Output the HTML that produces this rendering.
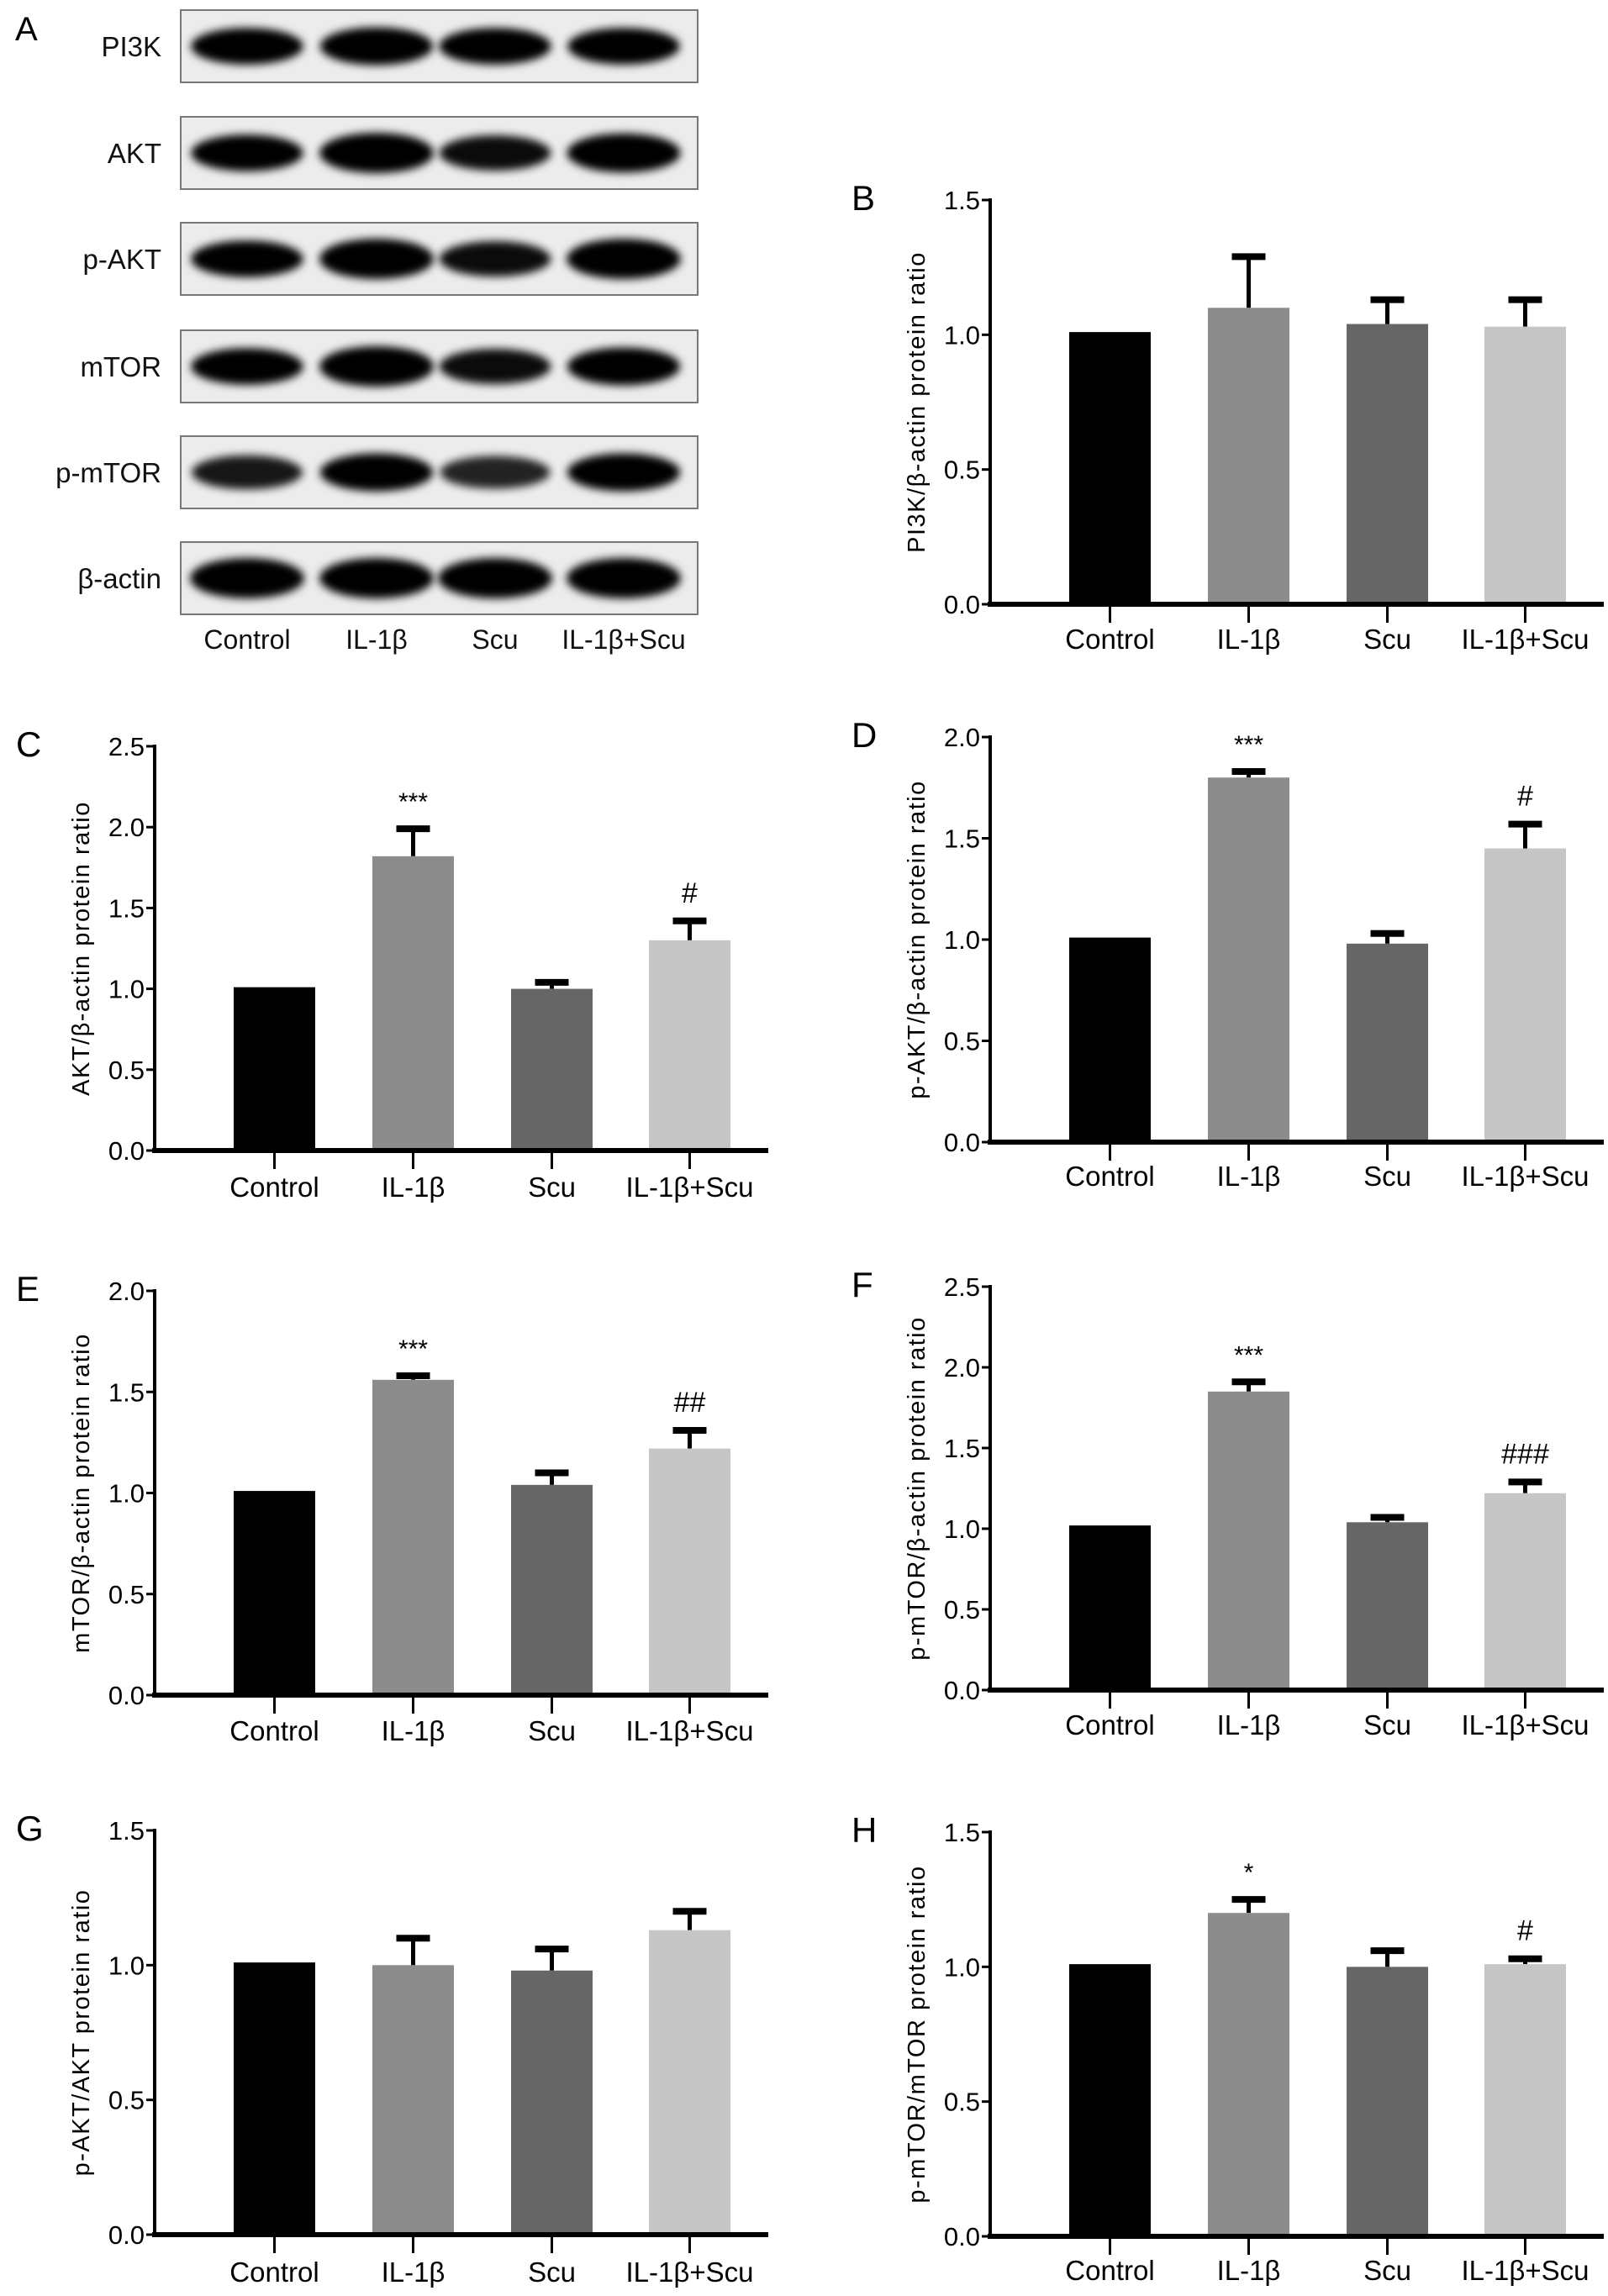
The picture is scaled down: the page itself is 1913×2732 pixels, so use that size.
<!DOCTYPE html>
<html><head><meta charset="utf-8"><style>
html,body{margin:0;padding:0;background:#fff;}
svg{display:block;font-family:"Liberation Sans",sans-serif;}
</style></head><body>
<svg id="fig" width="1913" height="2732" viewBox="0 0 1913 2732">
<defs>
<filter id="blur" x="-20%" y="-50%" width="140%" height="200%"><feGaussianBlur stdDeviation="5"/></filter>
</defs>
</svg>
<script>
const NS='http://www.w3.org/2000/svg';
const svg=document.getElementById('fig');
function el(tag,attrs,parent){const e=document.createElementNS(NS,tag);for(const k in attrs)e.setAttribute(k,attrs[k]);(parent||svg).appendChild(e);return e;}

const categories=['Control','IL-1β','Scu','IL-1β+Scu'];
const colors=['#000000','#8c8c8c','#666666','#c6c6c6'];

const bValues=[1.01,1.10,1.04,1.03];  const bErr=[0,0.19,0.09,0.10];  const bSig=['','','',''];
const cValues=[1.01,1.82,1.00,1.30];  const cErr=[0,0.17,0.04,0.12];  const cSig=['','***','','#'];
const dValues=[1.01,1.80,0.98,1.45];  const dErr=[0,0.03,0.05,0.12];  const dSig=['','***','','#'];
const eValues=[1.01,1.56,1.04,1.22];  const eErr=[0,0.02,0.06,0.09];  const eSig=['','***','','##'];
const fValues=[1.02,1.85,1.04,1.22];  const fErr=[0,0.06,0.03,0.07];  const fSig=['','***','','###'];
const gValues=[1.01,1.00,0.98,1.13];  const gErr=[0,0.10,0.08,0.07];  const gSig=['','','',''];
const hValues=[1.01,1.20,1.00,1.01];  const hErr=[0,0.05,0.06,0.02];  const hSig=['','*','','#'];

const ticks15=['0.0','0.5','1.0','1.5'];
const ticks20=['0.0','0.5','1.0','1.5','2.0'];
const ticks25=['0.0','0.5','1.0','1.5','2.0','2.5'];

const blotLabels=['PI3K','AKT','p-AKT','mTOR','p-mTOR','β-actin'];
const blotIntensity=[[0.85,0.9,0.85,0.85],[0.85,1.0,0.8,0.95],[0.85,1.0,0.8,1.0],[0.85,1.0,0.8,0.9],[0.75,0.9,0.7,0.9],[1.0,1.0,1.0,1.0]];

(function(){
  const g=el('g',{});
  
  
  const lbl=el('text',{x:18,y:48,'font-size':40},g);lbl.textContent='A';
  
  
  const tops=[12,139,265,393,519,645];
  const lanes=[294,448,589,742];
  blotLabels.forEach((name,i)=>{
    const y=tops[i],h=86;
    const bg=el('rect',{x:215,y:y,width:615,height:h,fill:'#ececec',stroke:'#777','stroke-width':2},g);
    
    
    blotIntensity[i].forEach((v,j)=>{
      const b=el('ellipse',{cx:lanes[j],cy:y+h/2,rx:60+v*8,ry:9+v*15,fill:'#050505',opacity:Math.min(1,v+0.15),filter:'url(#blur)'},g);
      
      
    });
    const t=el('text',{x:192,y:y+h/2+12,'font-size':33,'text-anchor':'end',fill:'#111'},g);
    t.textContent=name;
    
    
  });
  lanes.forEach((x,j)=>{
    const t=el('text',{x:x,y:772,'font-size':32,'text-anchor':'middle',fill:'#111'},g);
    t.textContent=categories[j];
    
    
  });
})();

function chart(o){
  const g=el('g',{});
  
  
  const ax=o.ax, y0=o.y0, yt=o.yt, ymax=o.ymax;
  const yS=v=>y0-(v/ymax)*(y0-yt);
  const barX=[ax+94,ax+259,ax+424,ax+588];
  const bw=97;
  const L=el('text',{x:ax-165,y:yt+12,'font-size':42},g);L.textContent=o.id.toUpperCase();
  
  
  o.values.forEach((v,i)=>{
    const x=barX[i];
    if(o.err[i]>0){
      const yt2=yS(v+o.err[i]);
      const e=el('line',{x1:x+bw/2,x2:x+bw/2,y1:yS(v),y2:yt2,stroke:'#000','stroke-width':5},g);
      
      
      const c=el('line',{x1:x+bw/2-20,x2:x+bw/2+20,y1:yt2,y2:yt2,stroke:'#000','stroke-width':8},g);
      
      
    }
    const r=el('rect',{x:x,y:yS(v),width:bw,height:y0-yS(v),fill:colors[i]},g);
    
    
    if(o.sig[i]){
      const st=el('text',{x:x+bw/2,y:yS(v+o.err[i])-22,'font-size':o.sig[i].startsWith('*')?30:34,'text-anchor':'middle'},g);
      st.textContent=o.sig[i];
      
      
    }
    const tk=el('line',{x1:x+bw/2,x2:x+bw/2,y1:y0,y2:y0+22,stroke:'#000','stroke-width':3},g);
    
    
    const cl=el('text',{x:x+bw/2,y:o.ly,'font-size':33,'text-anchor':'middle'},g);
    cl.textContent=categories[i];
    
    
  });
  const ya=el('line',{x1:ax,x2:ax,y1:yt-2,y2:y0,stroke:'#000','stroke-width':4},g);
  
  
  const xa=el('line',{x1:ax-3,x2:ax+730,y1:y0,y2:y0,stroke:'#000','stroke-width':6},g);
  
  
  o.ticks.forEach(t=>{
    const y=yS(parseFloat(t));
    const tl=el('line',{x1:ax-10,x2:ax,y1:y,y2:y,stroke:'#000','stroke-width':3},g);
    
    
    const tt=el('text',{x:ax-12,y:y+11,'font-size':31,'text-anchor':'end'},g);
    tt.textContent=t;
    
    
  });
  const my=(y0+yt)/2;
  const yt3=el('text',{x:0,y:0,'font-size':29,'text-anchor':'middle','letter-spacing':'1.5',transform:`translate(${ax-78},${my}) rotate(-90)`},g);
  yt3.textContent=o.title;
  
  
}

chart({id:'b',ax:1178,y0:719,yt:238,ymax:1.5,ticks:ticks15,values:bValues,err:bErr,sig:bSig,ly:772,title:'PI3K/β-actin protein ratio'});
chart({id:'c',ax:184,y0:1369,yt:888,ymax:2.5,ticks:ticks25,values:cValues,err:cErr,sig:cSig,ly:1424,title:'AKT/β-actin protein ratio'});
chart({id:'d',ax:1178,y0:1359,yt:877,ymax:2.0,ticks:ticks20,values:dValues,err:dErr,sig:dSig,ly:1411,title:'p-AKT/β-actin protein ratio'});
chart({id:'e',ax:184,y0:2017,yt:1536,ymax:2.0,ticks:ticks20,values:eValues,err:eErr,sig:eSig,ly:2071,title:'mTOR/β-actin protein ratio'});
chart({id:'f',ax:1178,y0:2011,yt:1531,ymax:2.5,ticks:ticks25,values:fValues,err:fErr,sig:fSig,ly:2064,title:'p-mTOR/β-actin protein ratio'});
chart({id:'g',ax:184,y0:2659,yt:2178,ymax:1.5,ticks:ticks15,values:gValues,err:gErr,sig:gSig,ly:2715,title:'p-AKT/AKT protein ratio'});
chart({id:'h',ax:1178,y0:2661,yt:2180,ymax:1.5,ticks:ticks15,values:hValues,err:hErr,sig:hSig,ly:2713,title:'p-mTOR/mTOR protein ratio'});
</script>
</body></html>
